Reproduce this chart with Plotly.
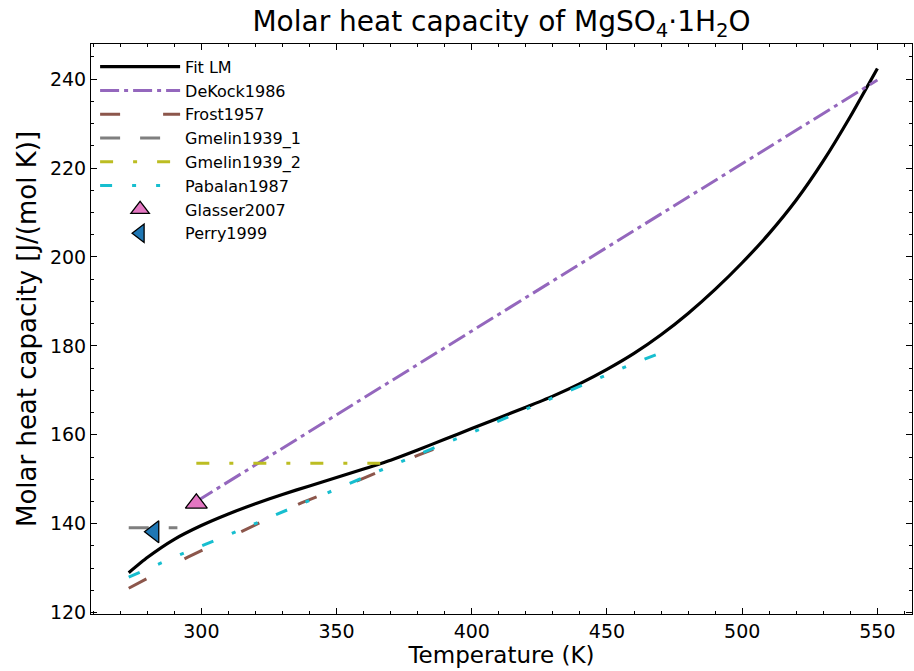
import plotly.graph_objects as go

# ---- data ----
fit_T = [273.15, 280, 290, 300, 310, 320, 330, 340, 350, 360, 370, 380, 390, 400,
         410, 420, 430, 440, 450, 460, 470, 480, 490, 500, 510, 520, 530, 540, 550]
fit_cp = [129.0, 132.4, 136.5, 139.6, 142.2, 144.5, 146.6, 148.5, 150.4, 152.3, 154.3,
          156.6, 159.0, 161.4, 163.8, 166.2, 168.7, 171.5, 174.7, 178.3, 182.5, 187.3,
          192.7, 198.7, 205.3, 212.8, 221.6, 231.6, 242.4]

dekock_T = [298.15, 550]
dekock_cp = [145.0, 239.8]

frost_T = [273.15, 295, 315, 337, 359, 380, 400]
frost_cp = [125.5, 132.5, 138.3, 144.7, 150.0, 155.4, 160.0]

gmelin1_T = [273.15, 291.15]
gmelin1_cp = [139.1, 139.1]

gmelin2_T = [298.15, 366.15]
gmelin2_cp = [153.6, 153.6]

pabalan_T = [273.15, 292, 312, 330, 347.5, 367, 385, 400, 414, 430, 451, 460, 473.15]
pabalan_cp = [128.0, 133.0, 138.0, 142.7, 147.2, 152.2, 156.8, 160.5, 164.2, 168.3,
              173.8, 176.1, 179.2]

glasser_T = [298.15]
glasser_cp = [144.6]

perry_T = [282.5]
perry_cp = [138.2]

FONT = "DejaVu Sans"

fig = go.Figure()
fig.add_trace(go.Scatter(x=fit_T, y=fit_cp, mode="lines", name="Fit LM",
                         line=dict(color="black", width=3.2, shape="spline", smoothing=0.5)))
fig.add_trace(go.Scatter(x=dekock_T, y=dekock_cp, mode="lines", name="DeKock1986",
                         line=dict(color="#9467bd", width=3, dash="19px,5px,4px,5px")))
fig.add_trace(go.Scatter(x=frost_T, y=frost_cp, mode="lines", name="Frost1957",
                         line=dict(color="#8c564b", width=3, dash="20px,43px")))
fig.add_trace(go.Scatter(x=gmelin1_T, y=gmelin1_cp, mode="lines", name="Gmelin1939_1",
                         line=dict(color="#7f7f7f", width=3, dash="20px,20px")))
fig.add_trace(go.Scatter(x=gmelin2_T, y=gmelin2_cp, mode="lines", name="Gmelin1939_2",
                         line=dict(color="#bcbd22", width=3, dash="13px,20px,4px,20px")))
fig.add_trace(go.Scatter(x=pabalan_T, y=pabalan_cp, mode="lines", name="Pabalan1987",
                         line=dict(color="#17becf", width=3,
                                   dash="12px,20px,4px,20px,4px,20px")))
fig.add_trace(go.Scatter(x=glasser_T, y=glasser_cp, mode="markers", name="Glasser2007",
                         marker=dict(symbol="triangle-up", size=19, color="#e377c2",
                                     line=dict(color="black", width=1.3))))
fig.add_trace(go.Scatter(x=perry_T, y=perry_cp, mode="markers", name="Perry1999",
                         marker=dict(symbol="triangle-left", size=19, color="#1f77b4",
                                     line=dict(color="black", width=1.3))))

axis_common = dict(
    showline=True, linecolor="black", linewidth=1, mirror="allticks",
    ticks="inside", ticklen=6, tickwidth=1, tickcolor="black",
    showgrid=False, zeroline=False,
    tickfont=dict(family=FONT, size=19, color="black"),
)

fig.update_xaxes(range=[259.2, 562.8], tickvals=[300, 350, 400, 450, 500, 550],
                 minor=dict(dtick=10, tick0=0, ticks="inside", ticklen=3, tickcolor="black"),
                 title=dict(text="Temperature (K)", font=dict(family=FONT, size=23, color="black"),
                            standoff=2),
                 **axis_common)
fig.update_yaxes(range=[119.7, 247.9], tickvals=[120, 140, 160, 180, 200, 220, 240],
                 minor=dict(dtick=5, tick0=0, ticks="inside", ticklen=3, tickcolor="black"),
                 title=dict(text="Molar heat capacity [J/(mol K)]",
                            font=dict(family=FONT, size=26, color="black"), standoff=5),
                 **axis_common)

fig.update_layout(
    width=914, height=671,
    margin=dict(l=91, r=2, t=44, b=57),
    paper_bgcolor="white", plot_bgcolor="white",
    font=dict(family=FONT, color="black"),
    title=dict(text="Molar heat capacity of MgSO<sub>4</sub>·1H<sub>2</sub>O",
               x=0.5, xref="paper", xanchor="center",
               y=1 - 21 / 671, yref="container", yanchor="middle",
               font=dict(family=FONT, size=28, color="black")),
    legend=dict(x=0.005, y=0.99, xanchor="left", yanchor="top",
                bgcolor="rgba(0,0,0,0)", borderwidth=0,
                font=dict(family=FONT, size=16, color="black"),
                itemwidth=80, tracegroupgap=0),
    showlegend=True,
)

fig.write_html("out.html")
